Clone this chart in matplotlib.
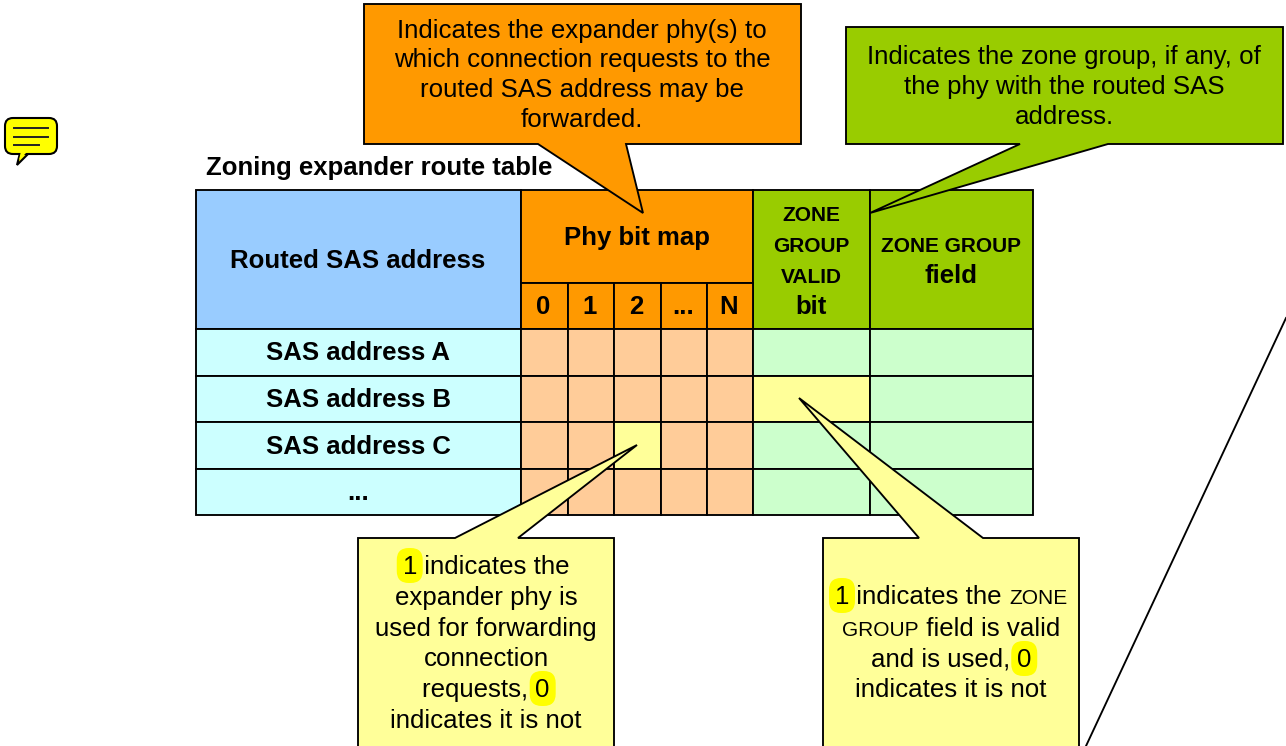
import matplotlib
matplotlib.use('Agg')
import matplotlib.pyplot as plt
from matplotlib.patches import Rectangle, Polygon, FancyBboxPatch

plt.rcParams['font.family'] = ['Liberation Sans', 'DejaVu Sans']

BLUE = '#99CCFF'
ORANGE = '#FF9900'
GREEN = '#99CC00'
CYAN = '#CCFFCC'
PALE_BLUE = '#CCFFFF'
PEACH = '#FFCC99'
PALE_YELLOW = '#FFFF99'
YELLOW = '#FFFF00'

title = 'Zoning expander route table'
address_header = 'Routed SAS address'
address_rows = ['SAS address A', 'SAS address B', 'SAS address C', '...']
phy_header = 'Phy bit map'
phy_cols = ['0', '1', '2', '...', 'N']
valid_header = ['ZONE', 'GROUP', 'VALID']
valid_word = 'bit'
group_header = 'ZONE GROUP'
group_word = 'field'

orange_note = ['Indicates the expander phy(s) to', 'which connection requests to the',
               'routed SAS address may be', 'forwarded.']
green_note = ['Indicates the zone group, if any, of', 'the phy with the routed SAS', 'address.']
# (text, kind) where kind is n = normal, s = small caps, h = highlighted
phy_note = [[('1', 'h'), (' indicates the', 'n')],
            [('expander phy is', 'n')],
            [('used for forwarding', 'n')],
            [('connection', 'n')],
            [('requests, ', 'n'), ('0', 'h')],
            [('indicates it is not', 'n')]]
valid_note = [[('1', 'h'), (' indicates the ', 'n'), ('ZONE', 's')],
              [('GROUP', 's'), (' field is valid', 'n')],
              [('and is used, ', 'n'), ('0', 'h')],
              [('indicates it is not', 'n')]]

col_x = [196, 521, 568, 614, 661, 707, 753, 870, 1033]
row_y = [190, 283, 329, 376, 422, 469, 515]

LW = 1.35
NOTE_SIZE = 18.6
BOLD_SIZE = 18.5
SMALL_SIZE = 15.0
CAPS_SIZE = 15.0

fig = plt.figure(figsize=(12.86, 7.46), dpi=100)
ax = fig.add_axes([0, 0, 1, 1])
ax.set_xlim(0, 1286)
ax.set_ylim(746, 0)
ax.axis('off')


def cell(x0, y0, x1, y1, color):
    ax.add_patch(Rectangle((x0, y0), x1 - x0, y1 - y0, facecolor=color, edgecolor='black', lw=LW, zorder=2))


def callout(x0, y0, x1, y1, base0, base1, tip, color):
    # box outline with a tail hanging off the top or bottom edge
    if tip[1] > y1:
        pts = [(x0, y0), (x1, y0), (x1, y1), (base1, y1), tip, (base0, y1), (x0, y1)]
    else:
        pts = [(x0, y1), (x1, y1), (x1, y0), (base1, y0), tip, (base0, y0), (x0, y0)]
    ax.add_patch(Polygon(pts, closed=True, facecolor=color, edgecolor='black', lw=LW, joinstyle='miter', zorder=4))


def centered(x, y, s, size=NOTE_SIZE, weight='normal'):
    ax.text(x, y, s, ha='center', va='baseline', fontsize=size, fontweight=weight, color='black', zorder=6)


def rich_line(x, y, parts):
    # measure the pieces first so that the whole line can be centred
    renderer = fig.canvas.get_renderer()
    widths = []
    for s, kind in parts:
        size = CAPS_SIZE if kind == 's' else NOTE_SIZE
        t = ax.text(0, 0, s.replace(' ', '\u00a0'), fontsize=size)
        widths.append(t.get_window_extent(renderer).width)
        t.remove()
    pos = x - sum(widths) / 2
    for (s, kind), w in zip(parts, widths):
        size = CAPS_SIZE if kind == 's' else NOTE_SIZE
        if kind == 'h':
            # yellow lozenge behind the digit, 26 wide and 35 high
            mid = pos + w / 2
            ax.add_patch(FancyBboxPatch((mid - 1, y - 14), 2, 11,
                                        boxstyle='round,pad=12,rounding_size=12',
                                        facecolor=YELLOW, edgecolor='none', zorder=5))
        ax.text(pos, y, s.replace(' ', '\u00a0'), ha='left', va='baseline', fontsize=size, color='black', zorder=6)
        pos += w


# table body
cell(col_x[0], row_y[0], col_x[1], row_y[2], BLUE)
cell(col_x[1], row_y[0], col_x[6], row_y[1], ORANGE)
cell(col_x[6], row_y[0], col_x[7], row_y[2], GREEN)
cell(col_x[7], row_y[0], col_x[8], row_y[2], GREEN)
for i in range(5):
    cell(col_x[i + 1], row_y[1], col_x[i + 2], row_y[2], ORANGE)
for r in range(4):
    y0, y1 = row_y[r + 2], row_y[r + 3]
    cell(col_x[0], y0, col_x[1], y1, PALE_BLUE)
    for i in range(5):
        cell(col_x[i + 1], y0, col_x[i + 2], y1, PALE_YELLOW if (r == 2 and i == 2) else PEACH)
    cell(col_x[6], y0, col_x[7], y1, PALE_YELLOW if r == 1 else CYAN)
    cell(col_x[7], y0, col_x[8], y1, CYAN)

# callouts
callout(364, 4, 801, 144, 538, 626, (643, 213), ORANGE)
callout(846, 27, 1283, 144, 1020, 1108, (870, 213), GREEN)
callout(358, 538, 614, 760, 455, 518, (637, 445), PALE_YELLOW)
callout(823, 538, 1079, 760, 919, 983, (799, 398), PALE_YELLOW)

# long diagonal line running off the picture
ax.plot([1286, 1086], [318, 746], color='black', lw=LW, zorder=3)

# note icon
ax.add_patch(Polygon([(20, 153), (17, 165), (29, 153)], closed=False, facecolor=YELLOW, edgecolor='black', lw=1.5, zorder=2))
ax.add_patch(FancyBboxPatch((12, 125), 38, 22, boxstyle='round,pad=7,rounding_size=8', facecolor=YELLOW,
                            edgecolor='black', lw=1.5, zorder=2))
ax.add_patch(Polygon([(21, 151), (19, 160), (28, 151)], closed=True, facecolor=YELLOW, edgecolor='none', zorder=3))
for y, x1 in [(128, 48), (136.5, 48), (144.5, 39)]:
    ax.plot([14, x1], [y, y], color='#222222', lw=1.4, zorder=3)

# table text
ax.text(206, 175, title, ha='left', va='baseline', fontsize=BOLD_SIZE, fontweight='bold', zorder=6)
centered(358, 268, address_header, BOLD_SIZE, 'bold')
centered(637, 245, phy_header, BOLD_SIZE, 'bold')
for i, s in enumerate(phy_cols):
    centered((col_x[i + 1] + col_x[i + 2]) / 2 - 1, 314, s, BOLD_SIZE, 'bold')
for s, y in zip(valid_header, [221, 252, 283]):
    centered(811.5, y, s, SMALL_SIZE, 'bold')
centered(811.5, 314, valid_word, BOLD_SIZE, 'bold')
centered(951, 252, group_header, SMALL_SIZE, 'bold')
centered(951, 283, group_word, BOLD_SIZE, 'bold')
for r, s in enumerate(address_rows):
    centered(358, (row_y[r + 2] + row_y[r + 3]) / 2 + 8, s, BOLD_SIZE, 'bold')

# note text
for s, y in zip(orange_note, [38, 67, 97, 127]):
    centered(582, y, s)
for s, y in zip(green_note, [64, 94, 124]):
    centered(1064, y, s)
for parts, y in zip(phy_note, [574, 605, 636, 666, 697, 728]):
    rich_line(486, y, parts)
for parts, y in zip(valid_note, [604, 636, 667, 697]):
    rich_line(951, y, parts)

fig.savefig('out.png', dpi=100)
